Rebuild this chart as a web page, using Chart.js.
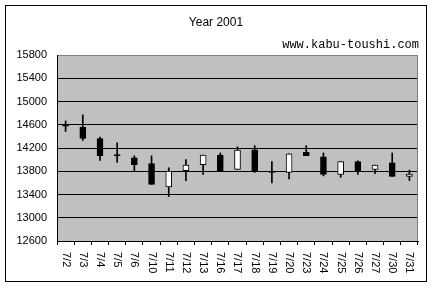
<!DOCTYPE html>
<html><head><meta charset="utf-8">
<script src="https://cdn.jsdelivr.net/npm/chart.js@4/dist/chart.umd.min.js"></script>
<style>html,body{margin:0;padding:0;background:#fff}</style>
</head><body>
<canvas id="c" width="432" height="288" style="display:block;width:432px;height:288px"></canvas>
<script>
const categories = ['7/2','7/3','7/4','7/5','7/6','7/10','7/11','7/12','7/13','7/16','7/17','7/18','7/19','7/20','7/23','7/24','7/25','7/26','7/27','7/30','7/31'];
const openValues  = [14595,14560,14360,14085,14030,13930,13530,13810,13915,14080,13830,14170,13800,13780,14125,14050,13745,13965,13830,13945,13710];
const closeValues = [14575,14365,14070,14065,13915,13575,13805,13905,14080,13810,14165,13805,13780,14100,14070,13745,13965,13810,13905,13710,13750];
const highValues  = [14665,14770,14390,14290,14065,14065,13860,14000,14080,14115,14220,14240,13965,14100,14240,14115,13965,13980,13905,14115,13820];
const lowValues   = [14485,14330,13985,13950,13805,13575,13365,13640,13745,13810,13830,13780,13600,13670,14070,13720,13695,13745,13760,13710,13640];
const yTicks = [12600,13000,13400,13800,14200,14600,15000,15400,15800];
const titleText = 'Year 2001';
const siteText = 'www.kabu-toushi.com';

const bodies = categories.map((_, i) => [openValues[i], closeValues[i]]);
const wicks = categories.map((_, i) => [lowValues[i], highValues[i]]);
const bodyColors = categories.map((_, i) => closeValues[i] < openValues[i] ? '#000000' : '#ffffff');

const decor = {
  id: 'decor',
  beforeDraw(chart) {
    const {ctx, chartArea: a} = chart;
    ctx.save();
    ctx.fillStyle = '#ffffff';
    ctx.fillRect(0, 0, chart.width, chart.height);
    ctx.fillStyle = '#c0c0c0';
    ctx.fillRect(a.left, a.top, a.right - a.left, a.bottom - a.top);
    ctx.strokeStyle = '#000000';
    ctx.lineWidth = 1;
    ctx.strokeRect(5.5, 5.5, 421, 276);
    ctx.restore();
  },
  afterDraw(chart) {
    const {ctx, chartArea: a} = chart;
    const xs = chart.scales.x;
    ctx.save();
    ctx.strokeStyle = '#808080';
    ctx.lineWidth = 1;
    ctx.beginPath();
    ctx.moveTo(Math.round(a.right) - 0.5, a.top);
    ctx.lineTo(Math.round(a.right) - 0.5, a.bottom);
    ctx.stroke();
    ctx.fillStyle = '#000000';
    ctx.font = '12px "Liberation Sans", Arial, sans-serif';
    ctx.textAlign = 'center';
    ctx.textBaseline = 'middle';
    ctx.fillText(titleText, 216, 23);
    ctx.font = '12px "Liberation Mono", monospace';
    ctx.textAlign = 'right';
    ctx.fillText(siteText, 419, 45);
    ctx.font = '11px "Liberation Sans", Arial, sans-serif';
    ctx.textAlign = 'left';
    categories.forEach((lab, i) => {
      const x = xs.getPixelForValue(i);
      ctx.save();
      ctx.translate(x, a.bottom + 11);
      ctx.rotate(Math.PI / 2);
      ctx.fillText(lab, 0, 0);
      ctx.restore();
    });
    ctx.restore();
  }
};

new Chart(document.getElementById('c'), {
  type: 'bar',
  data: {
    labels: categories,
    datasets: [
      {
        data: bodies,
        backgroundColor: bodyColors,
        borderColor: '#000000',
        borderWidth: 1,
        borderSkipped: false,
        barThickness: 6,
        grouped: false,
        order: 0
      },
      {
        data: wicks,
        backgroundColor: '#000000',
        borderWidth: 0,
        barThickness: 1,
        grouped: false,
        order: 1
      }
    ]
  },
  options: {
    responsive: false,
    animation: false,
    devicePixelRatio: 1,
    layout: { padding: { left: 5, top: 55, right: 14, bottom: 6 } },
    plugins: { legend: { display: false }, tooltip: { enabled: false }, title: { display: false } },
    scales: {
      x: {
        type: 'category',
        offset: true,
        grid: { display: true, drawOnChartArea: false, drawTicks: true, tickLength: 4, color: '#000000', offset: true },
        border: { display: true, color: '#000000', width: 1 },
        ticks: { display: false },
        afterFit(s) { s.height = 41; }
      },
      y: {
        min: 12600,
        max: 15800,
        afterBuildTicks(s) { s.ticks = yTicks.map(v => ({ value: v })); },
        grid: {
          drawTicks: false,
          color: (c) => (c.tick && c.tick.value === 15800) ? '#808080' : '#000000',
          lineWidth: 1
        },
        border: { display: true, color: '#000000', width: 1 },
        ticks: {
          padding: 10,
          color: '#000000',
          font: { family: '"Liberation Sans", Arial, sans-serif', size: 11 },
          callback: (v) => String(v)
        },
        afterFit(s) { s.width = 52; }
      }
    }
  },
  plugins: [decor]
});
</script>
</body></html>
